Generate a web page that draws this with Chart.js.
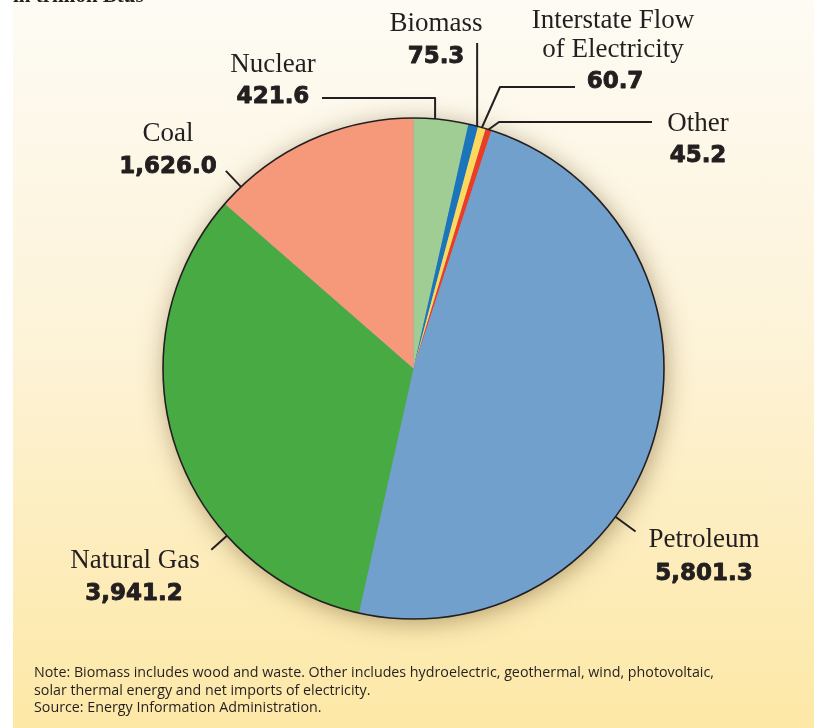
<!DOCTYPE html>
<html>
<head>
<meta charset="utf-8">
<title>Energy consumption by source</title>
<script src="https://cdn.jsdelivr.net/npm/chart.js@4.4.1/dist/chart.umd.min.js"></script>
<style>
  html, body { margin: 0; padding: 0; background: #fff; }
  #wrap { position: relative; width: 814px; height: 728px; overflow: hidden; }
  #panel {
    position: absolute; left: 13px; top: 0; right: 0; bottom: 0;
    background: linear-gradient(#fdfbf4 0%, #fdf3d9 45%, #fde8a6 100%);
  }
  canvas { position: absolute; left: 0; top: 0; }
</style>
</head>
<body>
<div id="wrap">
  <div id="panel"></div>
  <canvas id="energyChart" width="814" height="728"></canvas>
</div>
<script>
// consumption by source, trillion Btu (clockwise from 12 o'clock)
const sources = ["Nuclear", "Biomass", "Interstate Flow of Electricity", "Other", "Petroleum", "Natural Gas", "Coal"];
const consumption = [421.6, 75.3, 60.7, 45.2, 5801.3, 3941.2, 1626.0];
const sliceColors = ["#9fcd94", "#1b75bb", "#fcd95e", "#ee3b24", "#72a0cd", "#47aa42", "#f6997a"];
const nameLines = [["Nuclear"], ["Biomass"], ["Interstate Flow", "of Electricity"], ["Other"], ["Petroleum"], ["Natural Gas"], ["Coal"]];

const noteLines = [
    "Note: Biomass includes wood and waste. Other includes hydroelectric, geothermal, wind, photovoltaic,",
    "solar thermal energy and net imports of electricity.",
    "Source: Energy Information Administration."
];

const INK = "#231f20";

function fmt(v) {
    return v.toLocaleString("en-US", { minimumFractionDigits: 1, maximumFractionDigits: 1 });
}

// label placement + leader line shape for each slice
// "at" = where along the slice the leader touches the rim (0 = start, 1 = end)
const callouts = [
    { at: 0.39, x: 273, nameY: [72], valX: 273, valY: 103, path: p => [p, { x: p.x, y: 98 }, { x: 322, y: 98 }] },
    { at: 0.9, x: 436, nameY: [31], valX: 436, valY: 63, path: p => [p, { x: p.x, y: 43 }] },
    { at: 0.5, x: 613, nameY: [28, 57], valX: 615, valY: 88, path: p => [p, { x: 500, y: 87 }, { x: 575, y: 87 }] },
    { at: 0.5, x: 698, nameY: [131], valX: 698, valY: 162, path: p => [p, { x: 499, y: 122 }, { x: 652, y: 122 }] },
    { at: 0.62, x: 704, nameY: [547], valX: 704, valY: 580, tick: 25 },
    { at: 0.30, x: 135, nameY: [568], valX: 134, valY: 600, tick: 21 },
    { at: 0.11, x: 168, nameY: [141], valX: 168, valY: 173, tick: 22 }
];

// soft halo under the pie
const pieShadow = {
    id: "pieShadow",
    beforeDatasetsDraw(chart) {
        const arc = chart.getDatasetMeta(0).data[0];
        if (!arc) return;
        const ctx = chart.ctx;
        ctx.save();
        ctx.shadowColor = "rgba(110, 85, 40, 0.5)";
        ctx.shadowBlur = 24;
        ctx.shadowOffsetX = 2;
        ctx.shadowOffsetY = 4;
        ctx.fillStyle = "#72a0cd";
        ctx.beginPath();
        ctx.arc(arc.x, arc.y, arc.outerRadius, 0, Math.PI * 2);
        ctx.fill();
        ctx.restore();
    }
};

// rim outline, leader lines, labels, header and note
const calloutLabels = {
    id: "calloutLabels",
    afterDatasetsDraw(chart) {
        const ctx = chart.ctx;
        const arcs = chart.getDatasetMeta(0).data;
        const cx = arcs[0].x, cy = arcs[0].y, r = arcs[0].outerRadius;

        ctx.save();
        ctx.strokeStyle = INK;
        ctx.lineWidth = 1.6;
        ctx.beginPath();
        ctx.arc(cx, cy, r, 0, Math.PI * 2);
        ctx.stroke();

        ctx.fillStyle = INK;
        ctx.textAlign = "center";
        ctx.textBaseline = "alphabetic";
        ctx.lineJoin = "round";

        callouts.forEach((c, i) => {
            const a = arcs[i];
            const ang = a.startAngle + (a.endAngle - a.startAngle) * c.at;
            const p = { x: cx + Math.cos(ang) * r, y: cy + Math.sin(ang) * r };
            const pts = c.tick
                ? [p, { x: cx + Math.cos(ang) * (r + c.tick), y: cy + Math.sin(ang) * (r + c.tick) }]
                : c.path(p);
            ctx.lineWidth = 2;
            ctx.beginPath();
            pts.forEach((pt, k) => k ? ctx.lineTo(pt.x, pt.y) : ctx.moveTo(pt.x, pt.y));
            ctx.stroke();

            ctx.font = "27px 'Liberation Serif', serif";
            nameLines[i].forEach((line, k) => ctx.fillText(line, c.x, c.nameY[k]));

            // values are set in a heavy face; a thin stroke fattens DejaVu Bold
            ctx.font = "bold 23px 'DejaVu Sans', sans-serif";
            ctx.lineWidth = 0.9;
            ctx.fillText(fmt(consumption[i]), c.valX, c.valY);
            ctx.strokeText(fmt(consumption[i]), c.valX, c.valY);
        });

        // header, mostly above the top edge
        ctx.textAlign = "left";
        ctx.font = "bold 21px 'Liberation Serif', serif";
        ctx.fillText("in trillion Btus", 13, 2);

        // note block, squeezed to a condensed width
        ctx.font = "14px 'Open Sans', sans-serif";
        const sx = 680 / ctx.measureText(noteLines[0]).width;
        ctx.translate(34, 0);
        ctx.scale(sx, 1);
        ctx.fillStyle = "#231f20";
        [677, 695, 712].forEach((y, k) => ctx.fillText(noteLines[k], 0, y));
        ctx.restore();
    }
};

new Chart(document.getElementById("energyChart"), {
    type: "pie",
    data: {
        labels: sources,
        datasets: [{
            data: consumption,
            backgroundColor: sliceColors,
            borderWidth: 0,
            hoverOffset: 0
        }]
    },
    options: {
        responsive: false,
        animation: false,
        layout: { padding: { left: 163, right: 150, top: 118, bottom: 109 } },
        plugins: {
            legend: { display: false },
            tooltip: { enabled: false }
        }
    },
    plugins: [pieShadow, calloutLabels]
});
</script>
</body>
</html>
